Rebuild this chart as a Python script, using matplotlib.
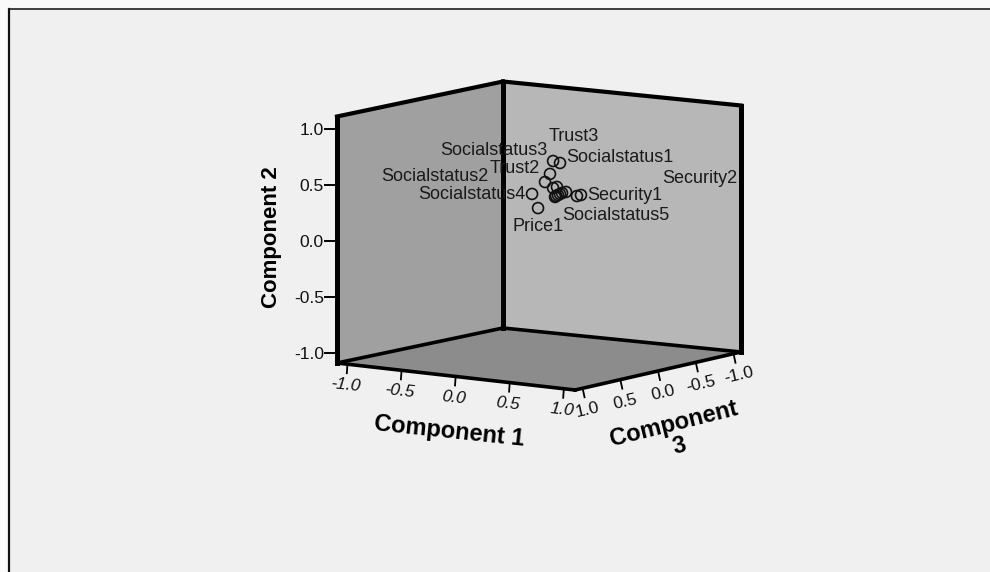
import numpy as np
import matplotlib
matplotlib.use("Agg")
import matplotlib.pyplot as plt

plt.rcParams['font.family'] = ['Liberation Sans', 'DejaVu Sans']

# loadings
comp1 = [0.20, 0.264, 0.241, 0.195, 0.145, 0.27, 0.20, 0.166, 0.218, 0.245, 0.213, 0.25, 0.227, 0.194, 0.281, 0.318]
comp2 = [0.696, 0.685, 0.60, 0.523, 0.426, 0.328, 0.455, 0.446, 0.377, 0.397, 0.397, 0.41, 0.387, 0.386, 0.362, 0.375]
comp3 = [0.1, 0.1, 0.2, 0.2, 0.3, 0.4, 0.1, 0.0, 0.1, 0.1, 0.0, 0.0, 0.1, 0.0, -0.1, -0.1]

tick_vals = [-1.0, -0.5, 0.0, 0.5, 1.0]
tick_text = ['-1.0', '-0.5', '0.0', '0.5', '1.0']

labels = ['Socialstatus3', 'Trust3', 'Socialstatus1', 'Trust2', 'Socialstatus2',
          'Socialstatus4', 'Price1', 'Socialstatus5', 'Security1', 'Security2']
label_point = [0, 1, 1, 2, 3, 4, 5, 13, 15, 15]
label_dx = [-59, 14, 60, -35, -110, -60, 0, 56, 44, 119]
label_dy = [-11, -26, -5, -5, -6, 1, 18, 22, 1, -16]

LIM = 1.1
# screen corners of the floor, (c1, c3)
FL = (337, 363)   # -1.1, 1.1
BK = (503, 328)   # -1.1, -1.1
RT = (741, 352)   # 1.1, -1.1
FR = (575, 390)   # 1.1, 1.1
HEIGHT = 246.5


def project(c1, c2, c3):
    u = (np.asarray(c1, dtype=float) + LIM) / (2 * LIM)
    v = (np.asarray(c3, dtype=float) + LIM) / (2 * LIM)
    w = (np.asarray(c2, dtype=float) + LIM) / (2 * LIM)
    x = (1-u)*(1-v)*BK[0] + (1-u)*v*FL[0] + u*(1-v)*RT[0] + u*v*FR[0]
    y = (1-u)*(1-v)*BK[1] + (1-u)*v*FL[1] + u*(1-v)*RT[1] + u*v*FR[1]
    return x, y - w * HEIGHT


fig = plt.figure(figsize=(9.9, 5.72), dpi=100, facecolor='#fafafa')
ax = fig.add_axes([0, 0, 1, 1])
ax.set_xlim(0, 990)
ax.set_ylim(572, 0)
ax.axis('off')

# outer frame
ax.fill([9, 990, 990, 9], [9, 9, 572, 572], color='#f0f0f0', zorder=0)
ax.plot([9, 9], [572, 9], color='#111111', lw=1.6, zorder=1, solid_capstyle='projecting')
ax.plot([9, 990], [8.5, 8.5], color='#222222', lw=1.2, zorder=1)

# walls and floor
top = lambda c1, c3: project(c1, LIM, c3)
bot = lambda c1, c3: project(c1, -LIM, c3)


def wall(a, b, col):
    xa, ya = bot(*a)
    xb, yb = bot(*b)
    xc, yc = top(*b)
    xd, yd = top(*a)
    ax.fill([xa, xb, xc, xd], [ya, yb, yc, yd], color=col, zorder=2, lw=0)


wall((-LIM, LIM), (-LIM, -LIM), '#a0a0a0')
wall((-LIM, -LIM), (LIM, -LIM), '#b7b7b7')
fx = [bot(-LIM, LIM)[0], bot(-LIM, -LIM)[0], bot(LIM, -LIM)[0], bot(LIM, LIM)[0]]
fy = [bot(-LIM, LIM)[1], bot(-LIM, -LIM)[1], bot(LIM, -LIM)[1], bot(LIM, LIM)[1]]
ax.fill(fx, fy, color='#8c8c8c', zorder=2, lw=0)

# box edges
for a, b in [((-LIM, LIM), (-LIM, -LIM)), ((-LIM, -LIM), (LIM, -LIM))]:
    xs, ys = zip(top(*a), top(*b))
    ax.plot(xs, ys, color='black', lw=3.0, zorder=3, solid_capstyle='projecting')
    xs, ys = zip(bot(*a), bot(*b))
    ax.plot(xs, ys, color='black', lw=2.6, zorder=3, solid_capstyle='projecting')
for c in [(-LIM, LIM), (-LIM, -LIM), (LIM, -LIM)]:
    xs, ys = zip(top(*c), bot(*c))
    ax.plot(xs, ys, color='black', lw=3.6, zorder=3, solid_capstyle='projecting')
xs, ys = zip(bot(-LIM, LIM), bot(LIM, LIM))
ax.plot(xs, ys, color='black', lw=2.6, zorder=3, solid_capstyle='projecting')
xs, ys = zip(bot(LIM, LIM), bot(LIM, -LIM))
ax.plot(xs, ys, color='black', lw=2.6, zorder=3, solid_capstyle='projecting')

# ticks
FS = 12.5
for val, txt in zip(tick_vals, tick_text):
    x, y = project(-LIM, val, LIM)
    y = y + 1
    ax.plot([x - 12, x], [y, y], color='black', lw=1.4, zorder=2)
    ax.text(x - 13, y + 1.5, txt, ha='right', va='center', fontsize=FS, color='#111111')

    x, y = bot(val, LIM)
    ax.plot([x - 0.5, x - 1], [y + 2, y + 9], color='black', lw=1.3, zorder=2)
    ax.text(x - 2, y + 21, txt, ha='center', va='center', fontsize=FS, style='italic',
            rotation=-6, rotation_mode='anchor', color='#111111')

    x, y = bot(LIM, val)
    ax.plot([x + 0.5, x + 2], [y + 2, y + 9], color='black', lw=1.3, zorder=2)
    ax.text(x + 5, y + 22, txt, ha='center', va='center', fontsize=FS,
            rotation=13, rotation_mode='anchor', color='#111111')

ax.text(271, 237, 'Component 2', rotation=90, ha='center', va='center', fontsize=16, fontweight='bold')
ax.text(449, 431, 'Component 1', rotation=-6, ha='center', va='center', fontsize=17, fontweight='bold')
ax.text(674, 424, 'Component', rotation=14, ha='center', va='center', fontsize=17, fontweight='bold')
ax.text(679, 446, '3', rotation=14, ha='center', va='center', fontsize=17, fontweight='bold')

# points
px, py = project(comp1, comp2, comp3)
ax.scatter(px, py, s=62, facecolors='none', edgecolors='#111111', linewidths=1.2, zorder=4)

for name, idx, dx, dy in zip(labels, label_point, label_dx, label_dy):
    ax.text(px[idx] + dx, py[idx] + dy, name, ha='center', va='center', fontsize=13,
            color='#1a1a1a', zorder=5)

fig.savefig('out.png', dpi=100, facecolor=fig.get_facecolor())
